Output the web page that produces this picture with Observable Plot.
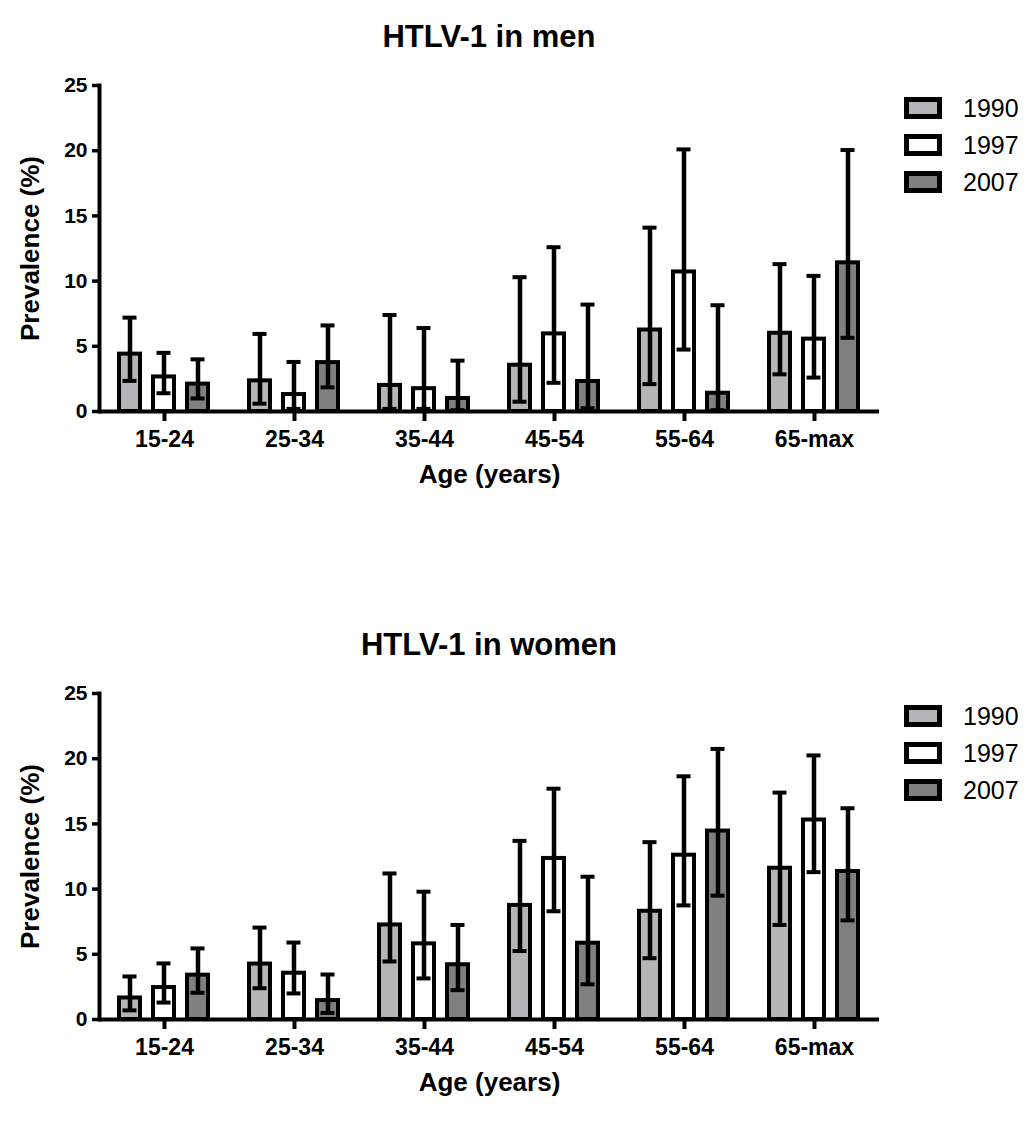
<!DOCTYPE html>
<html>
<head>
<meta charset="utf-8">
<script src="https://cdn.jsdelivr.net/npm/d3@7"></script>
<script src="https://cdn.jsdelivr.net/npm/@observablehq/plot@0.6"></script>
<style>
  body { margin: 0; background: #fff; font-family: Arial, "Liberation Sans", sans-serif; }
  #root { position: relative; width: 1035px; height: 1127px; overflow: hidden; background: #fff; }
  .panel { position: absolute; left: 0; width: 1035px; height: 500px; }
  .panel svg { position: absolute; left: 0; top: 0; }
  .title { position: absolute; left: 100px; width: 778px; top: 22px; text-align: center;
           font-weight: bold; font-size: 31px; line-height: 30px; color: #000; }
  .legend { position: absolute; left: 904px; top: 0; }
  .item { position: absolute; left: 0; height: 22px; display: flex; align-items: center; white-space: nowrap; }
  .sw { width: 38px; height: 22px; box-sizing: border-box; border: 5px solid #000; flex: none; }
  .lab { margin-left: 21px; font-size: 25px; color: #000; }
</style>
</head>
<body>
<div id="root"></div>
<script>
// ---- categories & series ----
const ages = ["15-24", "25-34", "35-44", "45-54", "55-64", "65-max"];
const years = ["1990", "1997", "2007"];
const yearFills = ["#b4b4b9", "#ffffff", "#808080"];
const yTicks = [0, 5, 10, 15, 20, 25];

// Men: prevalence (%) and 95% CI per age group
const men1990 = [4.4, 2.35, 2.0, 3.55, 6.25, 6.0];
const men1990Lo = [2.35, 0.6, 0.2, 0.75, 2.1, 2.85];
const men1990Hi = [7.2, 5.95, 7.4, 10.3, 14.1, 11.3];
const men1997 = [2.65, 1.3, 1.75, 5.95, 10.7, 5.55];
const men1997Lo = [1.4, 0.2, 0.2, 2.2, 4.75, 2.6];
const men1997Hi = [4.5, 3.8, 6.4, 12.6, 20.1, 10.4];
const men2007 = [2.1, 3.75, 1.0, 2.3, 1.4, 11.4];
const men2007Lo = [1.0, 1.85, 0.1, 0.25, 0.1, 5.65];
const men2007Hi = [4.0, 6.6, 3.9, 8.2, 8.15, 20.05];

// Women: prevalence (%) and 95% CI per age group
const women1990 = [1.65, 4.25, 7.25, 8.75, 8.3, 11.6];
const women1990Lo = [0.7, 2.4, 4.45, 5.25, 4.7, 7.25];
const women1990Hi = [3.3, 7.05, 11.2, 13.7, 13.6, 17.4];
const women1997 = [2.45, 3.55, 5.8, 12.35, 12.6, 15.3];
const women1997Lo = [1.3, 2.0, 3.15, 8.3, 8.75, 11.3];
const women1997Hi = [4.3, 5.9, 9.8, 17.7, 18.65, 20.25];
const women2007 = [3.4, 1.45, 4.2, 5.85, 14.45, 11.35];
const women2007Lo = [2.05, 0.5, 2.25, 2.7, 9.5, 7.6];
const women2007Hi = [5.45, 3.45, 7.25, 10.95, 20.75, 16.2];

function buildRows(vals, los, his) {
  const out = [];
  ages.forEach((age, i) => years.forEach((year, j) => {
    out.push({age, year, value: vals[j][i], lo: los[j][i], hi: his[j][i]});
  }));
  return out;
}

const menRows = buildRows([men1990, men1997, men2007], [men1990Lo, men1997Lo, men2007Lo], [men1990Hi, men1997Hi, men2007Hi]);
const womenRows = buildRows([women1990, women1997, women2007], [women1990Lo, women1997Lo, women2007Lo], [women1990Hi, women1997Hi, women2007Hi]);

function chart(rows) {
  return Plot.plot({
    width: 1035,
    height: 500,
    marginTop: 85,
    marginBottom: 89,
    marginLeft: 97,
    marginRight: 155,
    style: {fontFamily: "Arial, 'Liberation Sans', sans-serif", fontWeight: "bold", color: "#000", background: "transparent", overflow: "visible"},
    fx: {domain: ages, padding: 0},
    x: {domain: years, paddingInner: 0.38, paddingOuter: 0.55, axis: null},
    y: {domain: [0, 25], axis: null},
    color: {domain: years, range: yearFills},
    marks: [
      Plot.barY(rows, {fx: "age", x: "year", y: "value", fill: "year", stroke: "#000", strokeWidth: 4}),
      Plot.ruleX(rows, {fx: "age", x: "year", y1: "lo", y2: "hi", stroke: "#000", strokeWidth: 4.5}),
      Plot.tickY(rows, {fx: "age", x: "year", y: "hi", stroke: "#000", strokeWidth: 4, insetLeft: 3.5, insetRight: 3.5}),
      Plot.tickY(rows, {fx: "age", x: "year", y: "lo", stroke: "#000", strokeWidth: 4, insetLeft: 3.5, insetRight: 3.5}),
      Plot.ruleY([0], {stroke: "#000", strokeWidth: 4}),
      Plot.frame({anchor: "left", facetAnchor: "left", stroke: "#000", strokeWidth: 4}),
      Plot.axisY({ticks: yTicks, tickSize: 7, tickPadding: 5, strokeWidth: 3.5, fontSize: 21, label: null}),
      Plot.axisY({ticks: [], tickSize: 0, fontSize: 26, label: "Prevalence (%)", labelAnchor: "center", labelArrow: "none", labelOffset: 79}),
      Plot.axisFx({anchor: "bottom", tickSize: 10, tickPadding: 9, strokeWidth: 4, fontSize: 23, label: null}),
      Plot.axisFx({anchor: "bottom", ticks: [], tickSize: 0, fontSize: 26, label: "Age (years)", labelAnchor: "center", labelArrow: "none", labelOffset: 71})
    ]
  });
}

function panel(title, rows, top) {
  const p = document.createElement("div");
  p.className = "panel";
  p.style.top = top + "px";
  p.appendChild(chart(rows));
  const t = document.createElement("div");
  t.className = "title";
  t.textContent = title;
  p.appendChild(t);
  const lg = document.createElement("div");
  lg.className = "legend";
  years.forEach((y, j) => {
    const it = document.createElement("div");
    it.className = "item";
    it.style.top = (97 + j * 37.2) + "px";
    const sw = document.createElement("div");
    sw.className = "sw";
    sw.style.background = yearFills[j];
    const lb = document.createElement("span");
    lb.className = "lab";
    lb.textContent = y;
    it.appendChild(sw);
    it.appendChild(lb);
    lg.appendChild(it);
  });
  p.appendChild(lg);
  return p;
}

const root = document.getElementById("root");
root.appendChild(panel("HTLV-1 in men", menRows, 0));
root.appendChild(panel("HTLV-1 in women", womenRows, 608));
</script>
</body>
</html>
